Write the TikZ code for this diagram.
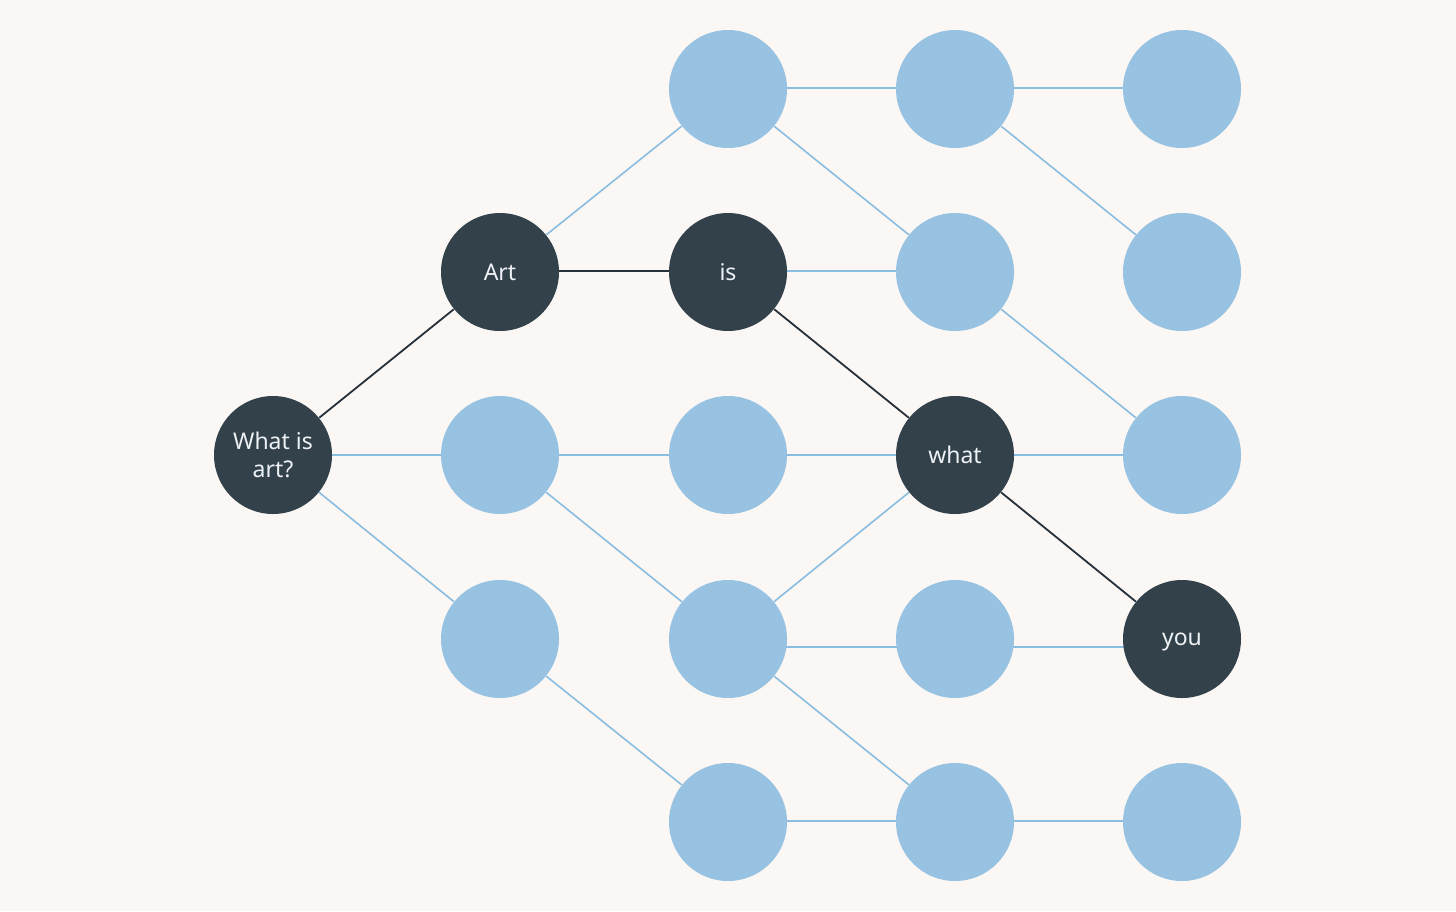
\documentclass[tikz,border=0pt]{standalone}
\usepackage{fontspec}
\setmainfont{Noto Sans}
\usetikzlibrary{backgrounds}
\definecolor{bg}{HTML}{FAF7F4}
\definecolor{lightc}{HTML}{97C2E2}
\definecolor{darkc}{HTML}{33414B}
\definecolor{lightline}{HTML}{8ABDE2}
\definecolor{darkline}{HTML}{25303A}
\definecolor{txt}{HTML}{EEF2F5}
\begin{document}
\begin{tikzpicture}[x=0.5pt,y=-0.5pt,
  lnode/.style={circle,fill=lightc,minimum size=59pt,inner sep=0pt},
  dnode/.style={circle,fill=darkc,minimum size=59pt,inner sep=0pt,text=txt,
    font=\fontsize{11.5}{14}\selectfont,align=center},
  le/.style={draw=lightline,line width=0.8pt},
  de/.style={draw=darkline,line width=0.9pt}]
\useasboundingbox (0,0) rectangle (1456,911);
% nodes
\node[dnode] (n02) at (273,455) {What is\\art?};
\node[dnode] (n11) at (500,272) {Art};
\node[lnode] (n12) at (500,455) {};
\node[lnode] (n13) at (500,639) {};
\node[lnode] (n20) at (728,89) {};
\node[dnode] (n21) at (728,272) {is};
\node[lnode] (n22) at (728,455) {};
\node[lnode] (n23) at (728,639) {};
\node[lnode] (n24) at (728,822) {};
\node[lnode] (n30) at (955,89) {};
\node[lnode] (n31) at (955,272) {};
\node[dnode] (n32) at (955,455) {what};
\node[lnode] (n33) at (955,639) {};
\node[lnode] (n34) at (955,822) {};
\node[lnode] (n40) at (1182,89) {};
\node[lnode] (n41) at (1182,272) {};
\node[lnode] (n42) at (1182,455) {};
\node[dnode,text depth=0pt] (n43) at (1182,639) {you};
\node[lnode] (n44) at (1182,822) {};
\begin{pgfonlayer}{background}
\fill[bg] (0,0) rectangle (1456,911);
% light edges
\draw[le] (n02) -- (n12);
\draw[le] (n02) -- (n13);
\draw[le] (n11) -- (n20);
\draw[le] ([yshift=0.5pt]n20.center) -- ([yshift=0.5pt]n30.center);
\draw[le] (n20) -- (n31);
\draw[le] ([yshift=0.5pt]n30.center) -- ([yshift=0.5pt]n40.center);
\draw[le] (n30) -- (n41);
\draw[le] ([yshift=0.5pt]n21.center) -- ([yshift=0.5pt]n31.center);
\draw[le] (n31) -- (n42);
\draw[le] (n12) -- (n22);
\draw[le] (n12) -- (n23);
\draw[le] (n22) -- (n32);
\draw[le] (n32) -- (n42);
\draw[le] (n23) -- (n32);
\draw[le] ([yshift=-4pt]n23.center) -- ([yshift=-4pt]n33.center);
\draw[le] ([yshift=-4pt]n33.center) -- ([yshift=-4pt]n43.center);
\draw[le] (n23) -- (n34);
\draw[le] (n13) -- (n24);
\draw[le] ([yshift=0.5pt]n24.center) -- ([yshift=0.5pt]n34.center);
\draw[le] ([yshift=0.5pt]n34.center) -- ([yshift=0.5pt]n44.center);
% dark edges
\draw[de] (n02) -- (n11);
\draw[de] ([yshift=0.5pt]n11.center) -- ([yshift=0.5pt]n21.center);
\draw[de] (n21) -- (n32);
\draw[de] (n32) -- (n43);
\end{pgfonlayer}
\end{tikzpicture}
\end{document}
